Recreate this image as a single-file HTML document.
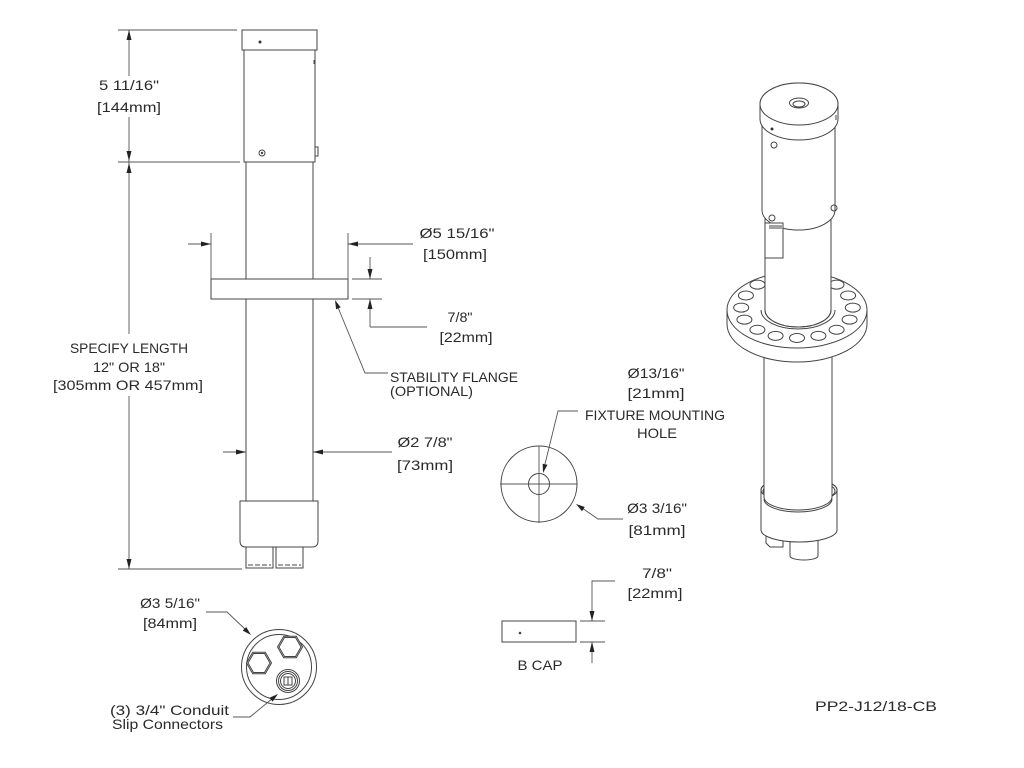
<!DOCTYPE html>
<html>
<head>
<meta charset="utf-8">
<style>
html,body{margin:0;padding:0;background:#fff;}
svg{display:block;}
text{font-family:"Liberation Sans",sans-serif;font-size:14px;fill:#2a2a2a;}
.l{stroke:#444;stroke-width:1;fill:none;}
.w{stroke:#444;stroke-width:1;fill:#fff;}
.d{stroke:#555;stroke-width:0.9;fill:none;}
.a{fill:#222;stroke:none;}
</style>
</head>
<body>
<svg width="1024" height="768" viewBox="0 0 1024 768" xmlns="http://www.w3.org/2000/svg">

<!-- ===== Main pole (left) ===== -->
<rect class="w" x="242" y="30" width="75" height="20"/>
<rect class="w" x="244" y="50" width="71" height="112"/>
<circle cx="260" cy="42" r="1.5" fill="#333"/>
<circle class="l" cx="262" cy="153" r="3"/>
<circle cx="262" cy="153" r="1.2" fill="#444"/>
<rect class="w" x="315" y="147" width="3" height="9"/>
<line class="l" x1="314" y1="60" x2="314" y2="64"/>
<!-- tube -->
<line class="l" x1="246" y1="162" x2="246" y2="279"/>
<line class="l" x1="313" y1="162" x2="313" y2="279"/>
<line class="l" x1="246" y1="299" x2="246" y2="501"/>
<line class="l" x1="313" y1="299" x2="313" y2="501"/>
<!-- flange -->
<rect class="w" x="211" y="279" width="137" height="20"/>
<!-- collar -->
<path class="w" d="M240,501 H318 V541 Q318,547 312,547 H246 Q240,547 240,541 Z"/>
<!-- connectors -->
<rect class="w" x="246" y="547" width="27" height="21"/>
<rect class="w" x="276" y="547" width="27" height="21"/>
<line class="l" x1="248" y1="565" x2="271" y2="565" stroke-dasharray="5,2"/>
<line class="l" x1="278" y1="565" x2="301" y2="565" stroke-dasharray="5,2"/>

<!-- ===== Left dimensions ===== -->
<line class="d" x1="118" y1="30" x2="237" y2="30"/>
<line class="d" x1="118" y1="162" x2="240" y2="162"/>
<line class="d" x1="118" y1="569" x2="242" y2="569"/>
<line class="d" x1="129" y1="30" x2="129" y2="76"/>
<line class="d" x1="129" y1="117" x2="129" y2="162"/>
<line class="d" x1="129" y1="162" x2="129" y2="334"/>
<line class="d" x1="129" y1="396" x2="129" y2="569"/>
<polygon class="a" points="129,30 126.5,40 131.5,40"/>
<polygon class="a" points="129,161 126.5,151 131.5,151"/>
<polygon class="a" points="129,163 126.5,173 131.5,173"/>
<polygon class="a" points="129,569 126.5,559 131.5,559"/>
<text x="129" y="90" text-anchor="middle" textLength="60" lengthAdjust="spacingAndGlyphs">5 11/16"</text>
<text x="129" y="112" text-anchor="middle" textLength="64" lengthAdjust="spacingAndGlyphs">[144mm]</text>
<text x="129" y="353" text-anchor="middle" textLength="118" lengthAdjust="spacingAndGlyphs">SPECIFY LENGTH</text>
<text x="129" y="372" text-anchor="middle" textLength="72" lengthAdjust="spacingAndGlyphs">12" OR 18"</text>
<text x="128" y="390" text-anchor="middle" textLength="150" lengthAdjust="spacingAndGlyphs">[305mm OR 457mm]</text>

<!-- flange diameter -->
<line class="d" x1="211" y1="233" x2="211" y2="279"/>
<line class="d" x1="348" y1="233" x2="348" y2="279"/>
<line class="d" x1="188" y1="244" x2="211" y2="244"/>
<line class="d" x1="348" y1="244" x2="413" y2="244"/>
<polygon class="a" points="211,244 201,241.5 201,246.5"/>
<polygon class="a" points="348,244 358,241.5 358,246.5"/>
<text x="457" y="238" text-anchor="middle" textLength="75" lengthAdjust="spacingAndGlyphs">Ø5 15/16"</text>
<text x="455" y="259" text-anchor="middle" textLength="64" lengthAdjust="spacingAndGlyphs">[150mm]</text>

<!-- flange thickness -->
<line class="d" x1="352" y1="279" x2="382" y2="279"/>
<line class="d" x1="352" y1="299" x2="382" y2="299"/>
<line class="d" x1="370" y1="257" x2="370" y2="279"/>
<line class="d" x1="370" y1="299" x2="370" y2="327"/>
<line class="d" x1="370" y1="327" x2="427" y2="327"/>
<polygon class="a" points="370,279 367.5,269 372.5,269"/>
<polygon class="a" points="370,299 367.5,309 372.5,309"/>
<text x="460" y="322" text-anchor="middle" textLength="25" lengthAdjust="spacingAndGlyphs">7/8"</text>
<text x="466" y="342" text-anchor="middle" textLength="53" lengthAdjust="spacingAndGlyphs">[22mm]</text>

<!-- stability flange leader -->
<polyline class="d" points="337,305 365,373 388,373"/>
<polygon class="a" points="335,300 340.7,307.4 336.1,309.3"/>
<text x="390" y="382" textLength="128" lengthAdjust="spacingAndGlyphs">STABILITY FLANGE</text>
<text x="390" y="396" textLength="83" lengthAdjust="spacingAndGlyphs">(OPTIONAL)</text>

<!-- tube diameter -->
<line class="d" x1="223" y1="452" x2="246" y2="452"/>
<line class="d" x1="313" y1="452" x2="392" y2="452"/>
<polygon class="a" points="246,452 236,449.5 236,454.5"/>
<polygon class="a" points="313,452 323,449.5 323,454.5"/>
<text x="425" y="447" text-anchor="middle" textLength="55" lengthAdjust="spacingAndGlyphs">Ø2 7/8"</text>
<text x="425" y="470" text-anchor="middle" textLength="56" lengthAdjust="spacingAndGlyphs">[73mm]</text>

<!-- ===== Bottom view (left) ===== -->
<circle class="w" cx="279" cy="667" r="37.5"/>
<circle class="l" cx="279" cy="667" r="32.5"/>
<polygon class="w" points="271.5,663 265.3,673.8 252.7,673.8 246.5,663 252.7,652.2 265.3,652.2"/>
<polygon class="l" points="270,663 264.5,672.5 253.5,672.5 248,663 253.5,653.5 264.5,653.5"/>
<polygon class="w" points="302.5,647 296.3,657.8 283.7,657.8 277.5,647 283.7,636.2 296.3,636.2"/>
<polygon class="l" points="301,647 295.5,656.5 284.5,656.5 279,647 284.5,637.5 295.5,637.5"/>
<circle class="w" cx="288" cy="681" r="11.5"/>
<circle class="l" cx="288" cy="681" r="9.5"/>
<circle class="l" cx="288" cy="681" r="7.5"/>
<rect class="l" x="284" y="677" width="8" height="8"/>
<line class="l" x1="288" y1="677" x2="288" y2="685"/>

<polyline class="d" points="206,612 227,612 246,630"/>
<polygon class="a" points="251,635 242.8,630.6 246.2,627.0"/>
<text x="170" y="608" text-anchor="middle" textLength="60" lengthAdjust="spacingAndGlyphs">Ø3 5/16"</text>
<text x="170" y="628" text-anchor="middle" textLength="54" lengthAdjust="spacingAndGlyphs">[84mm]</text>

<polyline class="d" points="233,717 250,717 273,698"/>
<polygon class="a" points="278,694 272.6,701.6 269.4,697.8"/>
<text x="110" y="715" textLength="119" lengthAdjust="spacingAndGlyphs">(3) 3/4" Conduit</text>
<text x="112" y="729" textLength="111" lengthAdjust="spacingAndGlyphs">Slip Connectors</text>

<!-- ===== Top view circle (center) ===== -->
<circle class="w" cx="539" cy="484" r="38"/>
<circle class="l" cx="539" cy="484" r="10.5"/>
<line class="d" x1="500" y1="484" x2="577" y2="484"/>
<line class="d" x1="539" y1="446" x2="539" y2="523"/>
<polyline class="d" points="578,411 558,411 545,464"/>
<polygon class="a" points="543,473 542.7,463.7 547.5,464.8"/>
<text x="656" y="378" text-anchor="middle" textLength="57" lengthAdjust="spacingAndGlyphs">Ø13/16"</text>
<text x="656" y="398" text-anchor="middle" textLength="57" lengthAdjust="spacingAndGlyphs">[21mm]</text>
<text x="655" y="420" text-anchor="middle" textLength="140" lengthAdjust="spacingAndGlyphs">FIXTURE MOUNTING</text>
<text x="657" y="438" text-anchor="middle" textLength="40" lengthAdjust="spacingAndGlyphs">HOLE</text>

<polyline class="d" points="582,508 598,519 623,519"/>
<polygon class="a" points="576,504 584.8,507.0 582.0,511.2"/>
<text x="657" y="513" text-anchor="middle" textLength="60" lengthAdjust="spacingAndGlyphs">Ø3 3/16"</text>
<text x="657" y="535" text-anchor="middle" textLength="57" lengthAdjust="spacingAndGlyphs">[81mm]</text>

<!-- ===== B CAP ===== -->
<rect class="w" x="502" y="621" width="74" height="21"/>
<circle cx="520" cy="633" r="1.3" fill="#444"/>
<line class="d" x1="580" y1="621" x2="605" y2="621"/>
<line class="d" x1="580" y1="642" x2="605" y2="642"/>
<polyline class="d" points="615,581 592,581 592,621"/>
<line class="d" x1="592" y1="642" x2="592" y2="663"/>
<polygon class="a" points="592,621 589.5,611 594.5,611"/>
<polygon class="a" points="592,642 589.5,652 594.5,652"/>
<text x="657" y="578" text-anchor="middle" textLength="30" lengthAdjust="spacingAndGlyphs">7/8"</text>
<text x="655" y="598" text-anchor="middle" textLength="55" lengthAdjust="spacingAndGlyphs">[22mm]</text>
<text x="540" y="670" text-anchor="middle" textLength="45" lengthAdjust="spacingAndGlyphs">B CAP</text>

<text x="815" y="711" textLength="122" lengthAdjust="spacingAndGlyphs">PP2-J12/18-CB</text>

<!-- ===== 3D view (right) ===== -->
<!-- connector bottom -->
<path class="w" d="M790,535 V556 A14,4 0 0 0 818,556 V535 Z"/>
<path class="w" d="M766,534 H783 V547 H770 L766,543 Z"/>
<!-- collar -->
<path class="w" d="M761,490 V530 A38,12 0 0 0 837,530 V490 A38,12 0 0 0 761,490 Z"/>
<ellipse class="l" cx="799" cy="490" rx="38" ry="12"/>
<ellipse class="l" cx="799" cy="491" rx="36" ry="11"/>
<!-- lower tube -->
<path class="w" d="M764,340 V497 A34,13 0 0 0 832,497 V340 Z"/>
<path class="l" d="M764,499 A34,13 0 0 0 832,499"/>
<!-- flange -->
<path class="w" d="M727,310 A70,38 0 0 1 867,310 L867,324 A70,38 0 0 1 727,324 Z"/>
<path class="l" d="M727,310 A70,38 0 0 0 867,310"/>
<g class="l">
<ellipse cx="797" cy="338" rx="7.5" ry="4.5"/>
<ellipse cx="818.4" cy="335.9" rx="7.5" ry="4.5"/>
<ellipse cx="836.6" cy="329.8" rx="7.5" ry="4.5"/>
<ellipse cx="849.6" cy="319.6" rx="7.5" ry="4.5"/>
<ellipse cx="852.8" cy="307.6" rx="7.5" ry="4.5"/>
<ellipse cx="848.1" cy="295.5" rx="7.5" ry="4.5"/>
<ellipse cx="836.5" cy="284.6" rx="7.5" ry="4.5"/>
<ellipse cx="775.6" cy="335.9" rx="7.5" ry="4.5"/>
<ellipse cx="757.4" cy="329.8" rx="7.5" ry="4.5"/>
<ellipse cx="744.4" cy="319.6" rx="7.5" ry="4.5"/>
<ellipse cx="741.2" cy="307.6" rx="7.5" ry="4.5"/>
<ellipse cx="745.9" cy="295.5" rx="7.5" ry="4.5"/>
<ellipse cx="757.5" cy="284.6" rx="7.5" ry="4.5"/>
<ellipse cx="776" cy="277" rx="7.5" ry="4.5"/>
<ellipse cx="818" cy="277" rx="7.5" ry="4.5"/>
</g>
<path class="l" d="M761,310 A37,19 0 0 0 835,310"/>
<!-- upper tube -->
<path class="w" d="M765,200 V310 A33,17 0 0 0 831,310 V200 Z"/>
<path class="l" d="M765,310 A33,17 0 0 0 831,310" stroke-dasharray="12,2"/>
<!-- body -->
<path class="w" d="M762,119 V210 A36.5,20 0 0 0 835,210 V119 Z"/>
<!-- cap -->
<path class="w" d="M760,104 V119 A39,21 0 0 0 838,119 V104 A39,21 0 0 0 760,104 Z"/>
<ellipse class="w" cx="799" cy="104" rx="39" ry="21"/>
<ellipse class="l" cx="799" cy="103" rx="9.5" ry="5"/>
<ellipse class="l" cx="799" cy="104" rx="6" ry="3"/>
<circle cx="772" cy="129" r="1.5" fill="#333"/>
<circle class="l" cx="774" cy="145" r="3"/>
<circle class="l" cx="772" cy="218" r="3"/>
<circle class="l" cx="834" cy="208" r="3"/>
<line class="l" x1="836" y1="115" x2="836" y2="120"/>
<!-- tab -->
<rect class="w" x="765" y="223" width="18" height="35"/>
<line class="l" x1="769" y1="226" x2="782" y2="226"/>
<line class="l" x1="769" y1="228" x2="782" y2="228"/>
</svg>
</body>
</html>
